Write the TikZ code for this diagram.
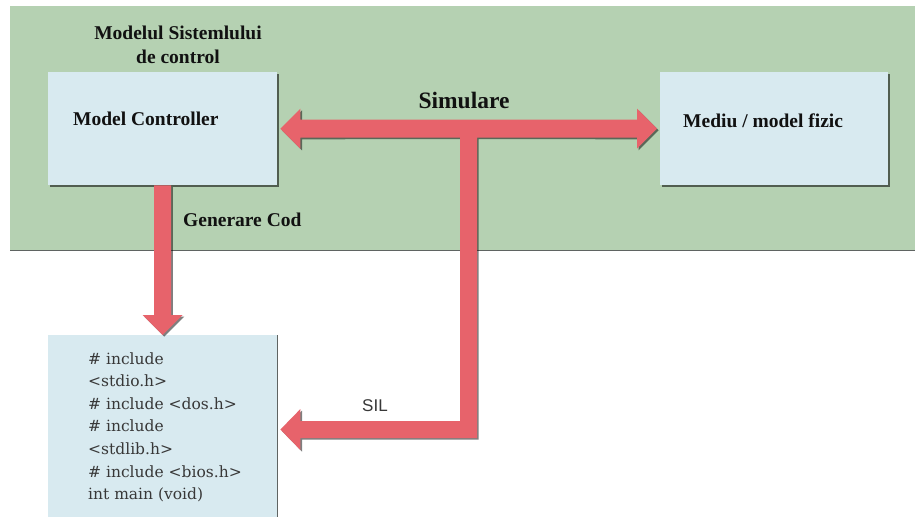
\documentclass[tikz,border=0pt]{standalone}
\usepackage{fontspec}
\setmainfont{Liberation Serif}
\newfontfamily\codefont{DejaVu Serif}
\newfontfamily\silfont{Liberation Sans}
\usetikzlibrary{calc,shadows}
\definecolor{bandgreen}{HTML}{B5D1B2}
\definecolor{boxblue}{HTML}{D8EAF0}
\definecolor{arrowred}{HTML}{E7636B}
\definecolor{edgegray}{HTML}{5F6462}
\definecolor{codegray}{HTML}{383838}
\definecolor{titleblack}{HTML}{111111}
\newcommand{\simpath}{(simL) -- ($(simL)+(20,-20)$) -- ($(simL)+(20,-9)$) -- ($(simR)+(-20,-9)$) -- ($(simR)+(-20,-20)$) -- (simR) -- ($(simR)+(-20,20)$) -- ($(simR)+(-20,9)$) -- ($(junc)+(8.5,9)$) -- ($(silC)+(8.5,8.5)$) -- ($(silT)+(20,8.5)$) -- ($(silT)+(20,20.5)$) -- (silT) -- ($(silT)+(20,-20.5)$) -- ($(silT)+(20,-8.5)$) -- ($(silC)+(-8.5,-8.5)$) -- ($(junc)+(-8.5,9)$) -- ($(simL)+(20,9)$) -- ($(simL)+(20,20)$) -- cycle}
\newcommand{\genpath}{($(genS)+(-8.5,0)$) -- ($(genE)+(-8.5,-20)$) -- ($(genE)+(-20,-20)$) -- (genE) -- ($(genE)+(20,-20)$) -- ($(genE)+(8.5,-20)$) -- ($(genS)+(8.5,0)$) -- cycle}
\tikzset{
  box/.style={fill=boxblue, inner sep=0pt, draw=none, anchor=north west,
    drop shadow={shadow xshift=2pt, shadow yshift=-2pt, fill=black, opacity=0.55}},
  title/.style={font=\bfseries\fontsize{19.5}{23}\selectfont, text=titleblack, inner sep=0pt},
  codeline/.style={font=\codefont\fontsize{15.5}{18}\selectfont, text=codegray, inner sep=0pt, anchor=base west},
  arrowfill/.style={fill=arrowred},
  arrowshade/.style={fill=black, opacity=0.5, transform canvas={shift={(1.6pt,-1.6pt)}}}
}
\begin{document}
\begin{tikzpicture}[x=1pt,y=-1pt]
\useasboundingbox (0,0) rectangle (915,517);
\fill[white] (0,0) rectangle (915,517);
% green band
\node[fill=bandgreen, inner sep=0pt, anchor=north west, minimum width=905pt, minimum height=244pt] (band) at (10,6) {};
\draw[edgegray, line width=1.4pt] (band.south west) -- (band.south east);
% boxes
\node[box, minimum width=229pt, minimum height=113pt] (mc) at (48,72) {};
\node[box, minimum width=228pt, minimum height=113pt] (mf) at (660,72) {};
\node[fill=boxblue, inner sep=0pt, anchor=north west, minimum width=229pt, minimum height=182pt] (code) at (48,335) {};
\draw[edgegray, line width=1pt] (code.north east) -- (code.south east);
% texts
\node[title, anchor=base] (hdr1) at (178,39) {Modelul Sistemlului};
\node[title, anchor=base] (hdr2) at (178,63) {de control};
\node[title, anchor=base west] (mct) at (73,125) {Model Controller};
\node[title, anchor=base west] (mft) at (683,127) {Mediu / model fizic};
\node[title, anchor=base west] (gen) at (183,226) {Generare Cod};
\node[title, font=\bfseries\fontsize{23.5}{27}\selectfont, anchor=base] (sim) at (464,108) {Simulare};
\node[font=\silfont\fontsize{17}{20}\selectfont, text=codegray, inner sep=0pt, anchor=base west] (sil) at (362,411) {SIL};
\foreach \t [count=\i from 0] in {\# include, <stdio.h>, \# include <dos.h>, \# include, <stdlib.h>, \# include <bios.h>, int main (void)}
  \node[codeline] (code\i) at (88,364+22.6*\i) {\t};
% arrow coordinates
\coordinate (simL) at ($(mc.east)+(3,0)$);
\coordinate (simR) at ($(mf.west)+(-3,0)$);
\coordinate (junc) at (468.5,128.5);
\coordinate (silT) at ($(code.north east)+(3,94.5)$);
\coordinate (silC) at (silT -| junc);
\coordinate (genS) at (mc.south);
\coordinate (genE) at (code.north);
% arrows
\fill[arrowshade] \simpath;
\fill[arrowshade] \genpath;
\fill[arrowfill] \simpath;
\fill[arrowfill] \genpath;
\end{tikzpicture}
\end{document}
